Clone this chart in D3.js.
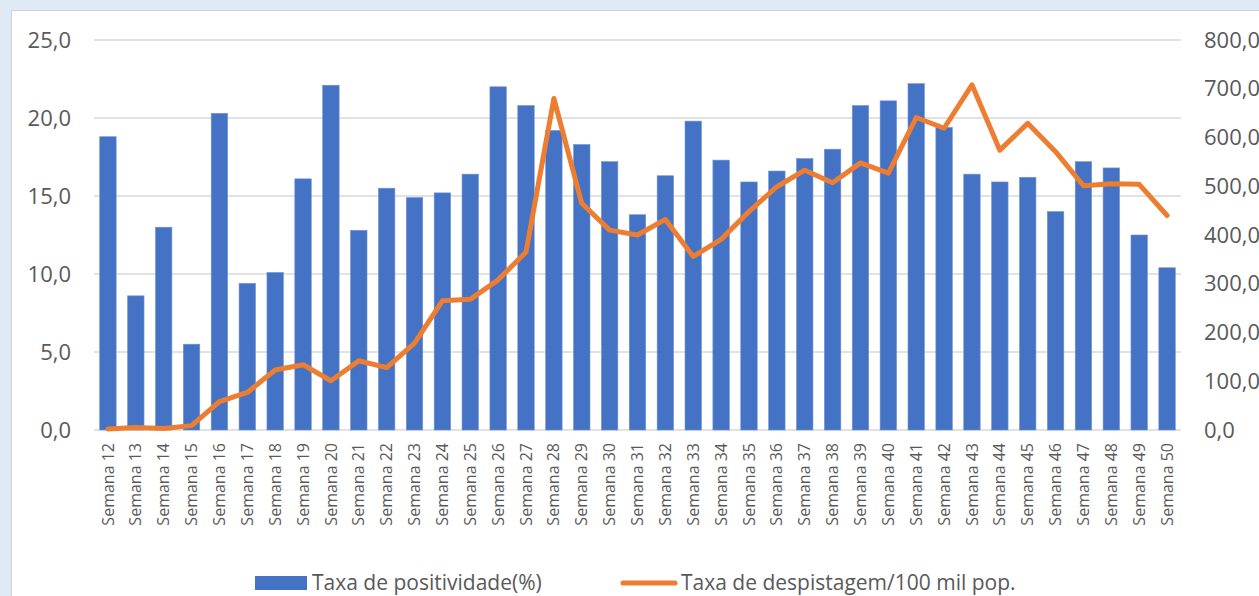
<!DOCTYPE html>
<html>
<head>
<meta charset="utf-8">
<script src="https://cdn.jsdelivr.net/npm/d3@7"></script>
<style>
  body { margin: 0; background: #deeaf6; }
  svg { display: block; font-family: "Open Sans", sans-serif; }
</style>
</head>
<body>
<div id="chart"></div>
<script>
// Weeks (categories)
const weeks = d3.range(12, 51).map(w => "Semana " + w);

// Taxa de positividade (%) - left axis
const positividade = [18.8, 8.6, 13.0, 5.5, 20.3, 9.4, 10.1, 16.1, 22.1, 12.8,
                      15.5, 14.9, 15.2, 16.4, 22.0, 20.8, 19.2, 18.3, 17.2, 13.8,
                      16.3, 19.8, 17.3, 15.9, 16.6, 17.4, 18.0, 20.8, 21.1, 22.2,
                      19.4, 16.4, 15.9, 16.2, 14.0, 17.2, 16.8, 12.5, 10.4];

// Taxa de despistagem / 100 mil pop. - right axis
const despistagem = [2, 5, 3, 9, 58, 77, 123, 134, 101, 142,
                     128, 178, 265, 268, 308, 365, 680, 465, 410, 400,
                     432, 356, 391, 448, 499, 533, 507, 548, 527, 641,
                     619, 708, 574, 629, 571, 501, 505, 504, 440];

const leftTicks = [0, 5, 10, 15, 20, 25];
const rightTicks = [0, 100, 200, 300, 400, 500, 600, 700, 800];

const seriesNames = ["Taxa de positividade(%)", "Taxa de despistagem/100 mil pop."];

const width = 1259, height = 596;
const margin = {top: 40, right: 78, bottom: 166, left: 94};
const plotW = width - margin.left - margin.right;
const plotH = height - margin.top - margin.bottom;

const svg = d3.select("#chart").append("svg")
    .attr("width", width)
    .attr("height", height);

// white panel
svg.append("rect")
    .attr("x", 11.5).attr("y", 10.5)
    .attr("width", width).attr("height", height)
    .attr("fill", "#fff")
    .attr("stroke", "#d0d0d0");

const g = svg.append("g").attr("transform", `translate(${margin.left},${margin.top})`);

const x = d3.scaleBand()
    .domain(weeks)
    .range([0, plotW])
    .paddingInner(0.41)
    .paddingOuter(0.205);

const yL = d3.scaleLinear().domain([0, 25]).range([plotH, 0]);
const yR = d3.scaleLinear().domain([0, 800]).range([plotH, 0]);

// gridlines
g.append("g")
    .selectAll("line")
    .data(leftTicks)
    .join("line")
    .attr("x1", 0).attr("x2", plotW)
    .attr("y1", d => yL(d)).attr("y2", d => yL(d))
    .attr("stroke", "#d9d9d9")
    .attr("stroke-width", 1.5);

// left axis
const fmt = v => d3.format(".1f")(v).replace(".", ",");
const leftAxis = g.append("g")
    .call(d3.axisLeft(yL).tickValues(leftTicks).tickFormat(fmt).tickSize(0).tickPadding(23))
    .attr("font-family", null).attr("font-size", null);
leftAxis.select(".domain").remove();
leftAxis.selectAll("text").attr("fill", "#595959").style("font-size", "22px");

// right axis
const rightAxis = g.append("g")
    .attr("transform", `translate(${plotW},0)`)
    .call(d3.axisRight(yR).tickValues(rightTicks).tickFormat(fmt).tickSize(0).tickPadding(23))
    .attr("font-family", null).attr("font-size", null);
rightAxis.select(".domain").remove();
rightAxis.selectAll("text").attr("fill", "#595959").style("font-size", "22px");

// bars
g.append("g")
    .selectAll("rect")
    .data(positividade)
    .join("rect")
    .attr("x", (d, i) => x(weeks[i]))
    .attr("y", d => yL(d))
    .attr("width", x.bandwidth())
    .attr("height", d => plotH - yL(d))
    .attr("fill", "#4472c4")
    .attr("stroke", "#6f93d3")
    .attr("stroke-width", 0.6);

// x axis labels
const xAxis = g.append("g")
    .attr("transform", `translate(0,${plotH})`)
    .call(d3.axisBottom(x).tickSize(0).tickPadding(0))
    .attr("font-family", null).attr("font-size", null);
xAxis.select(".domain").remove();
xAxis.selectAll("text")
    .attr("fill", "#595959")
    .style("font-size", "16px")
    .attr("transform", "rotate(-90)")
    .attr("text-anchor", "end")
    .attr("x", -13)
    .attr("y", 0)
    .attr("dy", "0.35em");

// line
const line = d3.line()
    .x((d, i) => x(weeks[i]) + x.bandwidth() / 2)
    .y(d => yR(d));

g.append("path")
    .datum(despistagem)
    .attr("d", line)
    .attr("fill", "none")
    .attr("stroke", "#ed7d31")
    .attr("stroke-width", 5)
    .attr("stroke-linejoin", "round")
    .attr("stroke-linecap", "round");

// legend
const legend = svg.append("g").attr("transform", "translate(0,583)");
legend.append("rect")
    .attr("x", 255).attr("y", -7)
    .attr("width", 52).attr("height", 14)
    .attr("fill", "#4472c4");
legend.append("text")
    .attr("x", 312).attr("y", 0).attr("dy", "0.35em")
    .attr("fill", "#595959").style("font-size", "21px")
    .text(seriesNames[0]);
legend.append("line")
    .attr("x1", 623).attr("x2", 675)
    .attr("y1", 0).attr("y2", 0)
    .attr("stroke", "#ed7d31")
    .attr("stroke-width", 5)
    .attr("stroke-linecap", "round");
legend.append("text")
    .attr("x", 681).attr("y", 0).attr("dy", "0.35em")
    .attr("fill", "#595959").style("font-size", "21px")
    .text(seriesNames[1]);
</script>
</body>
</html>
